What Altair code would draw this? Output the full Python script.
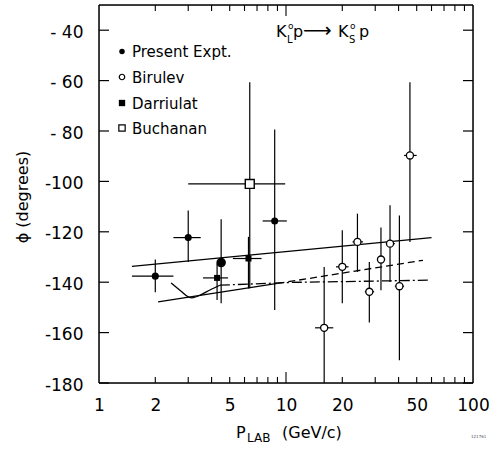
import altair as alt
import pandas as pd

W, H = 374, 378
FONT = "DejaVu Sans"

# ---------------- data ----------------
# Present experiment (filled circles)
pres_p = [2.0, 3.0, 4.5, 8.7]
pres_phi = [-137.6, -122.3, -132.2, -115.7]
pres_lo = [-144.0, -132.0, -148.4, -151.0]
pres_hi = [-131.0, -111.5, -115.0, -79.4]
pres_pmin = [1.5, 2.5, 4.5, 7.5]
pres_pmax = [2.5, 3.5, 4.5, 10.1]

# Birulev (small open circles)
bir_p = [16.0, 20.0, 24.1, 27.9, 32.2, 36.0, 40.4, 46.0]
bir_phi = [-158.1, -133.9, -124.0, -143.8, -131.0, -124.7, -141.6, -89.7]
bir_lo = [-180.0, -148.4, -135.9, -156.0, -143.2, -139.9, -171.0, -124.0]
bir_hi = [-134.0, -119.4, -112.8, -132.0, -118.3, -109.5, -113.5, -60.7]
bir_pmin = [14.3, 18.5, 22.7, 26.4, 30.7, 34.2, 38.2, 42.8]
bir_pmax = [17.9, 21.6, 25.8, 29.6, 33.9, 38.2, 42.8, 50.0]

# Darriulat (filled squares)
dar_p = [4.28, 6.3]
dar_phi = [-138.3, -130.6]
dar_lo = [-147.1, -142.5]
dar_hi = [-132.6, -122.0]
dar_pmin = [3.6, 5.2]
dar_pmax = [4.9, 7.4]

# Buchanan (open square)
buc_p = [6.4]
buc_phi = [-101.0]
buc_lo = [-142.4]
buc_hi = [-60.7]
buc_pmin = [3.0]
buc_pmax = [9.9]

# Curves
upper_p = [1.5, 60.0]
upper_phi = [-133.7, -122.3]
lower_solid_p = [2.07, 9.0]
lower_solid_phi = [-147.8, -140.5]
lower_dash_p = [9.0, 54.0]
lower_dash_phi = [-140.5, -131.3]
curve_p = [2.43, 2.75, 3.0, 3.15, 3.5, 3.92, 4.43]
curve_phi = [-140.3, -143.6, -145.8, -146.2, -145.0, -143.1, -141.2]
dashdot_p = [4.43, 10.5, 59.0]
dashdot_phi = [-141.2, -140.1, -139.2]

# Axis ticks
x_labels = [1, 2, 5, 10, 20, 50, 100]
x_major = [10]
x_minor = [2, 3, 4, 5, 6, 7, 8, 9, 20, 30, 40, 50, 60, 70, 80, 90]
y_ticks = [-180, -160, -140, -120, -100, -80, -60, -40]

# ---------------- scales / axes ----------------
xs = alt.Scale(type="log", domain=[1, 100], nice=False)
ys = alt.Scale(domain=[-180, -30], nice=False, zero=False)

xaxis = alt.Axis(values=x_labels, ticks=False, domain=False, grid=False,
                 labelFontSize=17, labelFont=FONT, labelColor="black",
                 labelPadding=14, labelFlush=False, labelOverlap=False,
                 labelExpr="format(datum.value, 'd')", title=None)
yaxis = alt.Axis(values=y_ticks, ticks=False, domain=False, grid=False,
                 labelFontSize=17, labelFont=FONT, labelColor="black",
                 labelPadding=16, labelOffset=2, labelOverlap=False,
                 labelExpr="datum.value > -100 ? '- ' + abs(datum.value) : '-' + abs(datum.value)",
                 title=None)


def X(f):
    return alt.X(f, type="quantitative", scale=xs, axis=xaxis)


def Y(f):
    return alt.Y(f, type="quantitative", scale=ys, axis=yaxis)


def line_layer(p, phi, dash=None, width=1.3, interp="linear"):
    df = pd.DataFrame({"p": p, "phi": phi})
    kw = dict(color="black", strokeWidth=width, clip=True, interpolate=interp)
    if dash:
        kw["strokeDash"] = dash
    return alt.Chart(df).mark_line(**kw).encode(x=X("p"), y=Y("phi"))


def errbars(p, phi, lo, hi, pmin, pmax):
    df = pd.DataFrame({"p": p, "phi": phi, "lo": lo, "hi": hi,
                       "pmin": pmin, "pmax": pmax})
    v = alt.Chart(df).mark_rule(color="black", strokeWidth=1.2, clip=True).encode(
        x=X("p"), y=Y("lo"), y2="hi")
    h = alt.Chart(df).mark_rule(color="black", strokeWidth=1.2, clip=True).encode(
        x=X("pmin"), x2="pmax", y=Y("phi"))
    return [v, h], df


layers = []

# curves
layers.append(line_layer(upper_p, upper_phi))
layers.append(line_layer(lower_solid_p, lower_solid_phi))
layers.append(line_layer(lower_dash_p, lower_dash_phi, dash=[7, 4]))
layers.append(line_layer(curve_p, curve_phi, interp="monotone"))
layers.append(line_layer(dashdot_p, dashdot_phi, dash=[10, 3, 2, 3]))

# error bars + markers
eb, pres_df = errbars(pres_p, pres_phi, pres_lo, pres_hi, pres_pmin, pres_pmax)
layers += eb
eb, bir_df = errbars(bir_p, bir_phi, bir_lo, bir_hi, bir_pmin, bir_pmax)
layers += eb
eb, dar_df = errbars(dar_p, dar_phi, dar_lo, dar_hi, dar_pmin, dar_pmax)
layers += eb
eb, buc_df = errbars(buc_p, buc_phi, buc_lo, buc_hi, buc_pmin, buc_pmax)
layers += eb

layers.append(alt.Chart(pres_df).mark_point(shape="circle", filled=True, color="black",
                                            size=50, opacity=1).encode(x=X("p"), y=Y("phi")))
layers.append(alt.Chart(pres_df[pres_df.p == 4.5]).mark_point(
    shape="circle", filled=False, color="black", strokeWidth=1.8, size=60, opacity=1).encode(
    x=X("p"), y=Y("phi")))
layers.append(alt.Chart(bir_df).mark_point(shape="circle", filled=True, fill="white",
                                           stroke="black", strokeWidth=1.3, size=50,
                                           opacity=1).encode(x=X("p"), y=Y("phi")))
layers.append(alt.Chart(dar_df).mark_point(shape="square", filled=True, color="black",
                                           size=36, opacity=1).encode(x=X("p"), y=Y("phi")))
layers.append(alt.Chart(buc_df).mark_point(shape="square", filled=True, fill="white",
                                           stroke="black", strokeWidth=1.4, size=80,
                                           opacity=1).encode(x=X("p"), y=Y("phi")))

# frame
layers.append(alt.Chart(pd.DataFrame({"a": [0]})).mark_rule(color="black", strokeWidth=1.5).encode(
    x=alt.value(0), y=alt.value(0), y2=alt.value(H)))
layers.append(alt.Chart(pd.DataFrame({"a": [0]})).mark_rule(color="black", strokeWidth=1.5).encode(
    x=alt.value(W), y=alt.value(0), y2=alt.value(H)))
layers.append(alt.Chart(pd.DataFrame({"a": [0]})).mark_rule(color="black", strokeWidth=1.5).encode(
    y=alt.value(0), x=alt.value(0), x2=alt.value(W)))
layers.append(alt.Chart(pd.DataFrame({"a": [0]})).mark_rule(color="black", strokeWidth=1.5).encode(
    y=alt.value(H), x=alt.value(0), x2=alt.value(W)))

# inward ticks
tick_y = pd.DataFrame({"v": y_ticks})
layers.append(alt.Chart(tick_y).mark_rule(color="black", strokeWidth=1.2).encode(
    y=Y("v"), x=alt.value(0), x2=alt.value(10)))
layers.append(alt.Chart(tick_y).mark_rule(color="black", strokeWidth=1.2).encode(
    y=Y("v"), x=alt.value(W - 10), x2=alt.value(W)))
tmin = pd.DataFrame({"v": x_minor})
tmaj = pd.DataFrame({"v": x_major})
for d, ln in ((tmin, 6), (tmaj, 11)):
    layers.append(alt.Chart(d).mark_rule(color="black", strokeWidth=1.1).encode(
        x=X("v"), y=alt.value(H - ln), y2=alt.value(H)))
    layers.append(alt.Chart(d).mark_rule(color="black", strokeWidth=1.1).encode(
        x=X("v"), y=alt.value(0), y2=alt.value(ln)))

one = pd.DataFrame({"a": [0]})


def txt(s, x, y, size=15, align="left", baseline="alphabetic", angle=0, color="black"):
    kw = dict(text=s, fontSize=size, font=FONT, align=align, baseline=baseline, color=color)
    if angle:
        kw["angle"] = angle
    return alt.Chart(one).mark_text(**kw).encode(x=alt.value(x), y=alt.value(y))


def sym(shape, filled, x, y, size):
    if filled:
        m = alt.Chart(one).mark_point(shape=shape, filled=True, color="black", size=size, opacity=1)
    else:
        m = alt.Chart(one).mark_point(shape=shape, filled=True, fill="white", stroke="black",
                                      strokeWidth=1.2, size=size, opacity=1)
    return m.encode(x=alt.value(x), y=alt.value(y))


# legend
leg_y = [46.5, 72, 98, 123]
leg_names = ["Present Expt.", "Birulev", "Darriulat", "Buchanan"]
leg_syms = [("circle", True, 30), ("circle", False, 30), ("square", True, 40), ("square", False, 40)]
for yy, name, (shp, fl, sz) in zip(leg_y, leg_names, leg_syms):
    layers.append(sym(shp, fl, 23, yy, sz))
    layers.append(txt(name, 33, yy + 5.5, size=15))

# reaction label  K°L p -> K°S p
layers.append(txt("K", 177, 32, size=16))
layers.append(txt("o", 189, 24, size=9))
layers.append(txt("L", 188, 38, size=10))
layers.append(txt("p", 194, 32, size=16))
layers.append(txt("⟶", 204, 32, size=20))
layers.append(txt("K", 239, 32, size=16))
layers.append(txt("o", 251, 24, size=9))
layers.append(txt("S", 250, 38, size=10))
layers.append(txt("p", 260, 32, size=16))

# axis titles
layers.append(txt("P", 137, 433, size=16))
layers.append(txt("LAB", 148, 437, size=12))
layers.append(txt("(GeV/c)", 183, 433, size=16))
layers.append(txt("ϕ (degrees)", -76, 192, size=16, align="center", baseline="middle", angle=270))
layers.append(txt("121761", 372, 433, size=4, color="#555555"))

chart = alt.layer(*layers).properties(
    width=W, height=H,
    autosize=alt.AutoSizeParams(type="none"),
    padding={"left": 99, "top": 5, "right": 24, "bottom": 66},
).configure_view(stroke=None).configure(background="white")

chart.save("out.html", embed_options={"renderer": "svg", "actions": False})
